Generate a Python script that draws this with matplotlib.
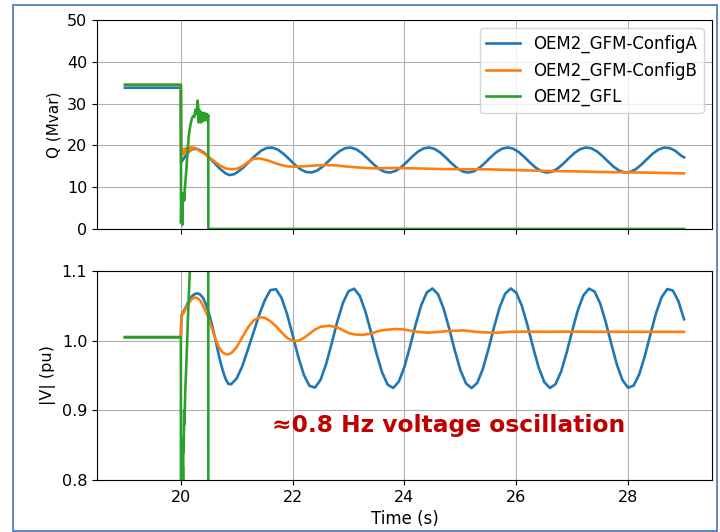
import numpy as np
import matplotlib
matplotlib.use('Agg')
import matplotlib.pyplot as plt

# ---- OEM2_GFM-ConfigA (blue) ----
t_a_early = [19.0, 20.0, 20.01, 20.05, 20.1, 20.15, 20.2, 20.25, 20.3, 20.35, 20.4, 20.45,
             20.5, 20.55, 20.6, 20.65, 20.7, 20.75, 20.8, 20.85, 20.9, 21.0, 21.1, 21.2,
             21.3, 21.4]
v_a_early = [1.005, 1.005, 1.036, 1.042, 1.050, 1.058, 1.064, 1.067, 1.068, 1.066, 1.061, 1.052,
             1.040, 1.025, 1.008, 0.990, 0.972, 0.957, 0.945, 0.938, 0.9375, 0.946, 0.9635, 0.9876,
             1.012, 1.037]
t_a_osc = np.linspace(21.5, 29.0, 76)
v_a_osc = [1.0577, 1.0725, 1.0739, 1.0616, 1.0381, 1.0079, 0.9768, 0.9509, 0.9352, 0.9327,
           0.9440, 0.9669, 0.9968, 1.0280, 1.0545, 1.0711, 1.0746, 1.0643, 1.0421, 1.0126,
           0.9813, 0.9542, 0.9367, 0.9322, 0.9415, 0.9628, 0.9921, 1.0234, 1.0510, 1.0694,
           1.0749, 1.0666, 1.0460, 1.0173, 0.9857, 0.9577, 0.9386, 0.9320, 0.9393, 0.9591,
           0.9874, 1.0189, 1.0475, 1.0674, 1.0750, 1.0687, 1.0498, 1.0219, 0.9903, 0.9615,
           0.9407, 0.9321, 0.9374, 0.9555, 0.9828, 1.0143, 1.0436, 1.0651, 1.0747, 1.0705,
           1.0533, 1.0263, 0.9951, 0.9653, 0.9431, 0.9325, 0.9357, 0.9521, 0.9785, 1.0096,
           1.0397, 1.0626, 1.0741, 1.0720, 1.0565, 1.0307]

tq_a_early = [19.0, 20.0, 20.005, 20.05, 20.1, 20.15, 20.2, 20.25, 20.3, 20.4, 20.5, 20.6,
              20.7, 20.8, 20.87, 20.95, 21.0, 21.1, 21.2, 21.3]
q_a_early = [33.8, 33.8, 16.0, 16.8, 17.8, 18.6, 19.0, 19.2, 19.1, 18.4, 17.2, 15.8,
             14.4, 13.3, 12.9, 13.1, 13.5, 14.5, 15.8, 17.2]
tq_a_osc = np.append(np.linspace(21.44, 28.94, 76), 29.0)
q_a_osc = [18.77, 19.40, 19.45, 18.94, 17.95, 16.68, 15.38, 14.29, 13.64, 13.53,
           14.00, 14.96, 16.22, 17.53, 18.64, 19.34, 19.48, 19.05, 18.12, 16.88,
           15.57, 14.43, 13.70, 13.51, 13.90, 14.79, 16.02, 17.34, 18.50, 19.26,
           19.50, 19.15, 18.29, 17.08, 15.75, 14.58, 13.78, 13.50, 13.81, 14.64,
           15.83, 17.15, 18.35, 19.18, 19.50, 19.24, 18.44, 17.27, 15.95, 14.74,
           13.87, 13.50, 13.73, 14.48, 15.63, 16.95, 18.18, 19.09, 19.49, 19.31,
           18.59, 17.46, 16.15, 14.90, 13.97, 13.52, 13.66, 14.34, 15.45, 16.76,
           18.02, 18.98, 19.46, 19.37, 18.72, 17.64, 17.15]

# ---- OEM2_GFM-ConfigB (orange) ----
t_b = [19.0, 20.0, 20.01, 20.05, 20.1, 20.15, 20.2, 20.25, 20.3, 20.35, 20.4, 20.45, 20.5,
       20.55, 20.6, 20.65, 20.7, 20.75, 20.8, 20.85, 20.9, 21.0, 21.1, 21.2, 21.3, 21.4,
       21.5, 21.6, 21.7, 21.8, 21.9, 22.0, 22.05, 22.1, 22.2, 22.3, 22.4, 22.5, 22.65,
       22.8, 22.9, 23.0, 23.1, 23.24, 23.4, 23.5, 23.6, 23.84, 24.0, 24.2, 24.41, 24.6,
       24.8, 25.06, 25.3, 25.63, 25.9, 26.2, 26.5, 27.0, 27.5, 28.0, 28.5, 29.0]
v_b = [1.005, 1.005, 1.035, 1.040, 1.048, 1.055, 1.060, 1.062, 1.061, 1.057, 1.050, 1.041, 1.031,
       1.019, 1.007, 0.996, 0.988, 0.983, 0.9805, 0.9805, 0.982, 0.991, 1.005, 1.019, 1.029, 1.0335,
       1.033, 1.028, 1.021, 1.012, 1.004, 1.000, 0.9995, 1.000, 1.004, 1.010, 1.016, 1.020, 1.0215,
       1.019, 1.015, 1.011, 1.009, 1.0083, 1.010, 1.013, 1.015, 1.0168, 1.016, 1.013, 1.0115, 1.0125,
       1.014, 1.0148, 1.0125, 1.0113, 1.0128, 1.013, 1.0128, 1.013, 1.0128, 1.0128, 1.0127, 1.0127]

tq_b = [19.0, 20.0, 20.005, 20.02, 20.04, 20.06, 20.08, 20.1, 20.12, 20.14, 20.16, 20.18,
        20.2, 20.22, 20.25, 20.3, 20.4, 20.5, 20.6, 20.7, 20.8, 20.9, 21.0, 21.1, 21.2,
        21.3, 21.4, 21.5, 21.6, 21.7, 21.8, 21.9, 22.0, 22.2, 22.4, 22.6, 22.8, 23.0, 23.2,
        23.45, 23.8, 24.2, 24.65, 25.0, 25.4, 26.0, 26.5, 27.0, 27.5, 28.0, 28.5, 29.0]
q_b = [34.5, 34.5, 17.5, 19.0, 17.8, 19.2, 18.0, 19.4, 18.3, 19.5, 18.6, 19.6,
       19.0, 19.5, 19.4, 19.0, 18.2, 17.2, 16.2, 15.2, 14.5, 14.3, 14.4, 15.0, 16.0,
       16.8, 16.9, 16.6, 16.2, 15.7, 15.3, 15.0, 14.9, 15.0, 15.2, 15.3, 15.2, 14.9, 14.7,
       14.5, 14.6, 14.5, 14.35, 14.3, 14.3, 14.1, 13.9, 13.8, 13.65, 13.55, 13.45, 13.3]

# ---- OEM2_GFL (green) ----
t_c = [19.0, 20.0, 20.003, 20.02, 20.025, 20.03, 20.035, 20.04, 20.045, 20.05, 20.06, 20.065,
       20.08, 20.1, 20.13, 20.16, 20.2, 20.49, 20.492, 29.0]
v_c = [1.005, 1.005, 0.70, 0.78, 0.83, 0.79, 0.82, 0.80, 0.86, 0.84, 0.90, 0.88,
       0.93, 0.97, 1.04, 1.10, 1.25, 1.25, 0.5, 0.5]

tq_c = [19.0, 20.0, 20.003, 20.01, 20.015, 20.02, 20.025, 20.03, 20.04, 20.05, 20.06, 20.07,
        20.08, 20.1, 20.12, 20.14, 20.16, 20.18, 20.2, 20.22, 20.24, 20.26, 20.28, 20.3,
        20.31, 20.32, 20.33, 20.34, 20.35, 20.36, 20.37, 20.38, 20.39, 20.4, 20.41, 20.42,
        20.43, 20.44, 20.45, 20.46, 20.47, 20.48, 20.49, 20.492, 29.0]
q_c = [34.5, 34.5, 1.5, 5.0, 2.0, 6.5, 1.0, 8.5, 7.0, 8.5, 6.8, 9.5,
       11.0, 14.5, 18.5, 22.0, 24.0, 25.5, 26.5, 27.0, 26.8, 28.5, 27.5, 30.7,
       29.0, 25.5, 28.5, 25.8, 28.0, 25.5, 27.8, 25.8, 27.6, 26.0, 27.8, 26.0,
       27.5, 26.2, 27.6, 26.0, 27.4, 26.5, 27.2, 0.0, 0.0]

labels = ['OEM2_GFM-ConfigA', 'OEM2_GFM-ConfigB', 'OEM2_GFL']
q_ticks = [0, 10, 20, 30, 40, 50]
v_ticks = [0.8, 0.9, 1.0, 1.1]
x_ticks = [20, 22, 24, 26, 28]

fig, (ax1, ax2) = plt.subplots(2, 1, figsize=(7.2, 5.32), dpi=100, sharex=True)
fig.subplots_adjust(left=0.1347, right=0.9889, top=0.9624, bottom=0.0977, hspace=0.201)

lw = 1.9
ax1.plot(tq_a_early + list(tq_a_osc), q_a_early + q_a_osc, color='C0', lw=lw, label=labels[0])
ax1.plot(tq_b, q_b, color='C1', lw=lw, label=labels[1])
ax1.plot(tq_c, q_c, color='C2', lw=lw, label=labels[2])
ax1.set_ylim(0, 50)
ax1.set_yticks(q_ticks)
ax1.set_ylabel('Q (Mvar)', fontsize=11)
ax1.grid(True)
ax1.legend(loc='upper right', fontsize=12)
ax1.tick_params(labelsize=11.5, labelbottom=False)

ax2.plot(t_a_early + list(t_a_osc), v_a_early + v_a_osc, color='C0', lw=lw)
ax2.plot(t_b, v_b, color='C1', lw=lw)
ax2.plot(t_c, v_c, color='C2', lw=lw)
ax2.set_ylim(0.8, 1.1)
ax2.set_yticks(v_ticks)
ax2.set_xlim(18.5, 29.5)
ax2.set_xticks(x_ticks)
ax2.set_ylabel('|V| (pu)', fontsize=11.5)
ax2.set_xlabel('Time (s)', fontsize=12)
ax2.grid(True)
ax2.tick_params(labelsize=11.5)

ax2.text(21.63, 0.8694, '\u22480.8 Hz voltage oscillation', color='#C00000', fontsize=16.8,
         fontweight='bold', family=['DejaVu Sans'])

# thin blue frame round the whole picture
fig.add_artist(plt.Rectangle((13 / 720, 1 / 532), 704 / 720, 526 / 532, transform=fig.transFigure,
                             fill=False, edgecolor='#4472C4', lw=1.2))

fig.savefig('out.png', dpi=100)
